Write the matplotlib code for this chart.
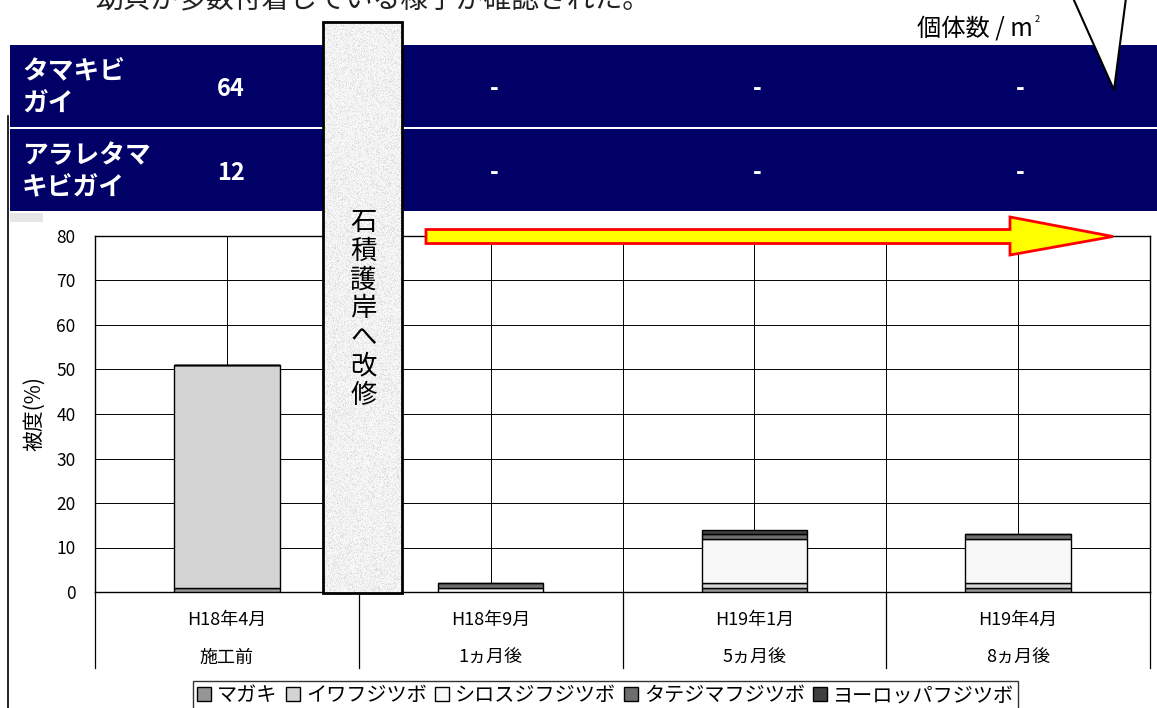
import matplotlib.pyplot as plt
import numpy as np
from matplotlib.patches import Rectangle, Polygon

plt.rcParams['font.family'] = ['Noto Sans CJK JP', 'DejaVu Sans']

# Data
months = ['H18年4月', 'H18年9月', 'H19年1月', 'H19年4月']
phases = ['施工前', '1ヵ月後', '5ヵ月後', '8ヵ月後']
species = ['マガキ', 'イワフジツボ', 'シロスジフジツボ', 'タテジマフジツボ', 'ヨーロッパフジツボ']
magaki = [1, 0, 1, 1]
iwa = [50, 0, 1, 1]
shirosuji = [0, 1, 10, 10]
tatejima = [0, 1, 1, 1]
europe = [0, 0, 1, 0]
colors = ['#969696', '#d4d4d4', '#f8f8f8', '#6e6e6e', '#404040']

# counts table (individuals / m2)
table_names = ['タマキビ\nガイ', 'アラレタマ\nキビガイ']
table_values = [['64', '-', '-', '-'], ['12', '-', '-', '-']]

W, H = 1157, 708
fig = plt.figure(figsize=(W / 100, H / 100), dpi=100)

# main bar chart
ax = fig.add_axes([95 / W, (H - 592) / H, (1150 - 95) / W, (592 - 236) / H])
x = np.arange(len(months))
bottom = np.zeros(len(months))
for name, vals, c in zip(species, [magaki, iwa, shirosuji, tatejima, europe], colors):
    ax.bar(x, vals, width=0.4, bottom=bottom, color=c, edgecolor='black',
           linewidth=1.0, label=name, zorder=3)
    bottom += np.array(vals)

ax.set_xlim(-0.5, 3.5)
ax.set_ylim(0, 80)
ax.set_yticks(range(0, 81, 10))
ax.set_xticks(np.arange(-0.5, 3.6, 0.5))
ax.set_xticklabels([])
ax.tick_params(length=0, labelsize=12.5, pad=14)
ax.grid(True, color='black', linewidth=0.7, zorder=0)
for s in ax.spines.values():
    s.set_color('black')
    s.set_linewidth(1.0)
ax.set_ylabel('被度(%)', fontsize=15, labelpad=8)

# category labels below the axis
for i in range(len(months)):
    ax.text(i, -0.079, months[i], transform=ax.get_xaxis_transform(),
            ha='center', va='center', fontsize=13)
    ax.text(i, -0.185, phases[i], transform=ax.get_xaxis_transform(),
            ha='center', va='center', fontsize=13)
for b in np.arange(-0.5, 3.6, 1.0):
    ax.plot([b, b], [0, -0.2135], transform=ax.get_xaxis_transform(),
            color='black', linewidth=0.9, clip_on=False)

leg = fig.legend(loc='upper left', bbox_to_anchor=(193 / W, 1 - 681 / H), ncol=5,
                 fontsize=14.5, frameon=True, fancybox=False, handlelength=0.7,
                 handleheight=0.7, handletextpad=0.3, columnspacing=0.4,
                 borderpad=0.2, borderaxespad=0)
leg.get_frame().set_edgecolor('black')
leg.get_frame().set_linewidth(1.0)

# overlay in pixel coordinates
ov = fig.add_axes([0, 0, 1, 1], zorder=5)
ov.set_xlim(0, W)
ov.set_ylim(H, 0)
ov.axis('off')
ov.patch.set_alpha(0)

ov.text(95, 0, '幼貝が多数付着している様子が確認された。', fontsize=20,
        ha='left', va='center', color='#222222')
ov.plot([8, 8], [116, 708], color='black', linewidth=1.2)
ov.add_patch(Rectangle((10, 213), 33, 9, facecolor='#e6e6e6', edgecolor='none'))

navy = '#000066'
rows_y = [(45, 127), (129, 211)]
for (y0, y1), name, vals in zip(rows_y, table_names, table_values):
    ov.add_patch(Rectangle((10, y0), W - 10, y1 - y0, facecolor=navy, edgecolor='none'))
    ov.text(22, (y0 + y1) / 2 + 2, name, color='white', fontsize=18.5, fontweight='bold',
            ha='left', va='center', linespacing=1.25)
    for xp, v in zip([231, 494, 757, 1020], vals):
        ov.text(xp, (y0 + y1) / 2 + 3, v, color='white', fontsize=17,
                fontweight='bold', ha='center', va='center')

ov.text(1033, 29, '個体数 / m', fontsize=17.5, ha='right', va='center')
ov.text(1035, 19, '2', fontsize=6.5, ha='left', va='center')

# callout triangle
ov.add_patch(Polygon([(1073, -2), (1114, 90), (1126, -2)], closed=True,
                     facecolor='white', edgecolor='black', linewidth=1.5, clip_on=False))

# stone pillar
px0, px1, py0, py1 = 323, 402, 22, 593
gx, gy = np.meshgrid(np.arange(px1 - px0), np.arange(py1 - py0))
tex = np.modf(np.sin(gx * 12.9898 + gy * 78.233) * 43758.5453)[0]
tex = np.abs(tex)
shade = 0.97 - 0.12 * tex ** 3
ov.imshow(shade, cmap='gray', vmin=0, vmax=1, extent=(px0, px1, py1, py0),
          aspect='auto', interpolation='bilinear', zorder=2)
ov.add_patch(Rectangle((px0, py0), px1 - px0, py1 - py0, facecolor='none',
                       edgecolor='black', linewidth=2, zorder=3))
ov.text((px0 + px1) / 2 + 1, 309, '\n'.join('石積護岸へ改修'), fontsize=19,
        ha='center', va='center', linespacing=1.08, zorder=4)

# arrow
ov.add_patch(Polygon([(426, 229.5), (1010, 229.5), (1010, 217), (1113, 236.5),
                      (1010, 255), (1010, 243.5), (426, 243.5)], closed=True,
                     facecolor='#ffff00', edgecolor='#ff0000', linewidth=2, zorder=3))
ov.set_xlim(0, W)
ov.set_ylim(H, 0)

fig.savefig('out.png', dpi=100)
